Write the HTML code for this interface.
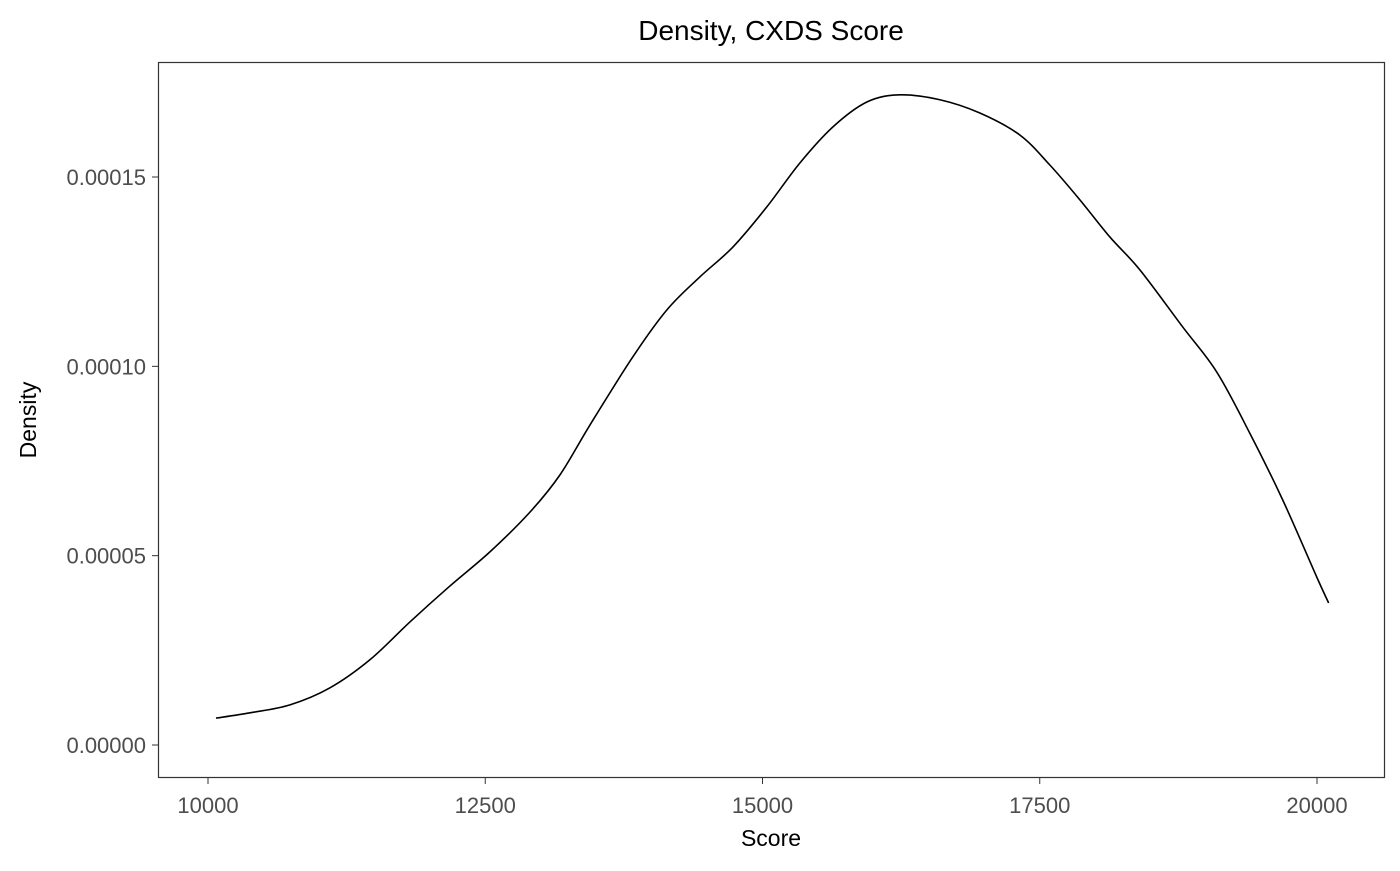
<!DOCTYPE html>
<html><head><meta charset="utf-8"><style>
body{margin:0;background:#fff;}
text{font-family:"Liberation Sans",Arial,sans-serif;}
</style></head><body>
<svg id="chart" width="1400" height="866" xmlns="http://www.w3.org/2000/svg">
<rect x="0" y="0" width="1400" height="866" fill="#fff"/>
<text x="771" y="40" font-size="28" text-anchor="middle" fill="#000">Density, CXDS Score</text>
<rect x="158.5" y="62.5" width="1226" height="715" fill="none" stroke="#333" stroke-width="1.2"/>
<g id="xticks"></g>
<g id="yticks"></g>
<path id="curve" fill="none" stroke="#000" stroke-width="1.6"/>
<text x="771" y="846" font-size="23" text-anchor="middle" fill="#000">Score</text>
<text transform="translate(36,420) rotate(-90)" font-size="23" text-anchor="middle" fill="#000">Density</text>
</svg>
<script>
const xs=[10072,10379,10739,11100,11460,11821,12182,12542,12903,13173,13444,13831,14138,14435,14733,15039,15337,15634,15941,16238,16599,16960,17320,17590,17861,18131,18402,18789,19096,19393,19691,19997,20105];
const ys=[7.1e-6,8.5e-6,1.06e-5,1.51e-5,2.25e-5,3.25e-5,4.2e-5,5.1e-5,6.15e-5,7.13e-5,8.45e-5,1.025e-4,1.149e-4,1.236e-4,1.315e-4,1.421e-4,1.537e-4,1.632e-4,1.698e-4,1.717e-4,1.704e-4,1.669e-4,1.611e-4,1.532e-4,1.44e-4,1.342e-4,1.255e-4,1.104e-4,9.85e-5,8.24e-5,6.47e-5,4.44e-5,3.75e-5];
const xTicks=[10000,12500,15000,17500,20000];
const xTickLabels=["10000","12500","15000","17500","20000"];
const yTicks=[0,0.00005,0.0001,0.00015];
const yTickLabels=["0.00000","0.00005","0.00010","0.00015"];
const X=v=>208+(v-10000)*(1317-208)/10000;
const Y=v=>745-v*(745-177)/0.00015;
const NS="http://www.w3.org/2000/svg";
const gx=document.getElementById('xticks'),gy=document.getElementById('yticks');
xTicks.forEach((t,i)=>{
 const l=document.createElementNS(NS,'line');
 
 
 l.setAttribute('x1',X(t));l.setAttribute('x2',X(t));l.setAttribute('y1',778);l.setAttribute('y2',784);l.setAttribute('stroke','#333');
 gx.appendChild(l);
 const tx=document.createElementNS(NS,'text');
 
 
 tx.setAttribute('x',X(t));tx.setAttribute('y',813);tx.setAttribute('font-size','22');tx.setAttribute('fill','#4d4d4d');tx.setAttribute('text-anchor','middle');
 tx.textContent=xTickLabels[i];gx.appendChild(tx);
});
yTicks.forEach((t,i)=>{
 const l=document.createElementNS(NS,'line');
 
 
 l.setAttribute('x1',152);l.setAttribute('x2',158);l.setAttribute('y1',Y(t));l.setAttribute('y2',Y(t));l.setAttribute('stroke','#333');
 gy.appendChild(l);
 const tx=document.createElementNS(NS,'text');
 
 
 tx.setAttribute('x',146);tx.setAttribute('y',Y(t)+8);tx.setAttribute('font-size','22');tx.setAttribute('fill','#4d4d4d');tx.setAttribute('text-anchor','end');
 tx.textContent=yTickLabels[i];gy.appendChild(tx);
});
const P=xs.map((x,i)=>[X(x),Y(ys[i])]);
let d='M'+P[0][0]+','+P[0][1];
for(let i=0;i<P.length-1;i++){
 const p0=P[Math.max(0,i-1)],p1=P[i],p2=P[i+1],p3=P[Math.min(P.length-1,i+2)];
 const c1=[p1[0]+(p2[0]-p0[0])/6,p1[1]+(p2[1]-p0[1])/6];
 const c2=[p2[0]-(p3[0]-p1[0])/6,p2[1]-(p3[1]-p1[1])/6];
 d+=' C'+c1.join(',')+' '+c2.join(',')+' '+p2.join(',');
}
document.getElementById('curve').setAttribute('d',d);
</script>
</body></html>
